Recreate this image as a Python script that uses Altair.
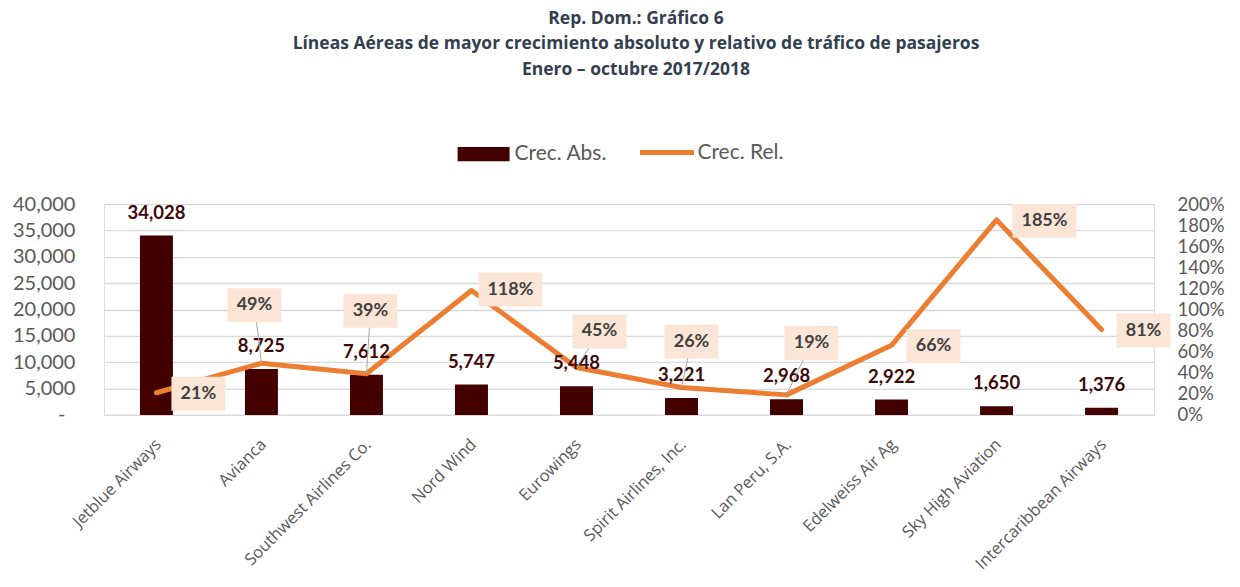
import json
import numpy as np
import pandas as pd
import altair as alt

# ---------------- data ----------------
airlines = [
    "Jetblue Airways", "Avianca", "Southwest Airlines Co.", "Nord Wind",
    "Eurowings", "Spirit Airlines, Inc.", "Lan Peru, S.A.", "Edelweiss Air Ag",
    "Sky High Aviation", "Intercaribbean Airways",
]
crec_abs = [34028, 8725, 7612, 5747, 5448, 3221, 2968, 2922, 1650, 1376]
crec_rel = [21, 49, 39, 118, 45, 26, 19, 66, 185, 81]  # percent

abs_ticks = list(range(0, 40001, 5000))
rel_ticks = list(range(0, 201, 20))

# ---------------- style ----------------
BAR = "#420000"
LINE = "#ED7D31"
BOX = "#FBE5D6"
AXIS_TXT = "#595959"
PLOT_W, PLOT_H = 1051, 211
n = len(airlines)
px_x = PLOT_W / n          # pixels per category unit
px_y = PLOT_H / 200.0      # pixels per percentage point

# placement of the percentage callouts relative to their point (pixels, + = right/down)
label_dx_px = [42, -7, 4, 39, 23, 10, 25, 42, 48, 42]
label_dy_px = [1, -58, -63, -1, -36, -46, -52, 1, 1, 1]
box_h_px = 34

df = pd.DataFrame({"idx": list(range(n)), "airline": airlines,
                   "abs": crec_abs, "rel": crec_rel})
df["abs_lbl"] = [f"{v:,}" for v in crec_abs]
df["rel_lbl"] = [f"{v}%" for v in crec_rel]
box_w = np.array([54 if len(s) <= 3 else 64 for s in df["rel_lbl"]])
df["lx"] = df["idx"] + np.array(label_dx_px) / px_x
df["ly"] = df["rel"] - np.array(label_dy_px) / px_y
df["bx1"] = df["lx"] - box_w / 2 / px_x
df["bx2"] = df["lx"] + box_w / 2 / px_x
df["by1"] = df["ly"] - box_h_px / 2 / px_y
df["by2"] = df["ly"] + box_h_px / 2 / px_y
df["leader"] = [dy < -20 for dy in label_dy_px]
df["s1"] = "Crec. Abs."
df["s2"] = "Crec. Rel."

xs = alt.Scale(domain=[-0.5, n - 0.5], nice=False, zero=False, padding=0)
ys_abs = alt.Scale(domain=[0, 40000], nice=False, padding=0)
ys_rel = alt.Scale(domain=[0, 200], nice=False, padding=0)

x_axis = alt.Axis(
    values=list(range(n)),
    labelExpr=f"{json.dumps(airlines)}[datum.value]",
    labelAngle=-45, labelFont="Open Sans", labelFontSize=16.5, labelColor=AXIS_TXT,
    labelPadding=21, labelOffset=-4, labelLimit=0, labelOverlap=False,
    ticks=False, grid=False,
    domainColor="#D9D9D9", domainWidth=1.3, title=None,
)
left_axis = alt.Axis(
    orient="left", values=abs_ticks,
    labelExpr="datum.value == 0 ? '-' : format(datum.value, ',')",
    labelFont="Lato", labelFontSize=20, labelColor=AXIS_TXT,
    labelPadding={"condition": {"test": "datum.value === 0", "value": 39},
                  "value": 29},
    ticks=False, domain=False, grid=True, gridColor="#D9D9D9", gridWidth=1.3,
    title=None,
)
right_axis = alt.Axis(
    orient="right", values=rel_ticks, labelExpr="datum.value + '%'",
    labelFont="Lato", labelFontSize=18.5, labelColor=AXIS_TXT, labelPadding=23,
    labelLimit=0, ticks=False, domain=False, grid=False, title=None,
)

base = alt.Chart(df)


def X(field):
    return alt.X(field, scale=xs, axis=x_axis)


bars = base.mark_bar(size=33).encode(
    x=X("idx:Q"),
    y=alt.Y("abs:Q", scale=ys_abs, axis=left_axis),
    fill=alt.Fill("s1:N", scale=alt.Scale(domain=["Crec. Abs."], range=[BAR]),
                  legend=alt.Legend(orient="none", legendX=354, legendY=-76,
                                    title=None, padding=0,
                                    symbolType="M-1,-0.27L1,-0.27L1,0.27L-1,0.27Z",
                                    symbolSize=2704, symbolStrokeWidth=0,
                                    symbolOpacity=1,
                                    labelFont="Lato", labelFontSize=21,
                                    labelColor=AXIS_TXT, labelOffset=5)),
)

line = base.mark_line(strokeWidth=5, strokeCap="round", strokeJoin="round").encode(
    x=X("idx:Q"),
    y=alt.Y("rel:Q", scale=ys_rel, axis=right_axis),
    stroke=alt.Stroke("s2:N", scale=alt.Scale(domain=["Crec. Rel."], range=[LINE]),
                      legend=alt.Legend(orient="none", legendX=534, legendY=-81,
                                        title=None, padding=0,
                                        symbolType="stroke", symbolSize=2916,
                                        symbolStrokeWidth=5,
                                        labelFont="Lato", labelFontSize=21,
                                        labelColor=AXIS_TXT, labelOffset=1)),
)

bar_labels = base.mark_text(baseline="alphabetic", dy=-17, font="Lato",
                            fontWeight="bold", fontSize=18.5,
                            color="#3D0A0A").encode(
    x=X("idx:Q"),
    y=alt.Y("abs:Q", scale=ys_abs, axis=None),
    text="abs_lbl:N",
)

leaders = base.mark_rule(color="#A6A6A6", strokeWidth=1).encode(
    x=X("idx:Q"), y=alt.Y("rel:Q", scale=ys_rel, axis=None),
    x2="lx:Q", y2="ly:Q",
).transform_filter("datum.leader")

boxes = base.mark_rect(color=BOX).encode(
    x=X("bx1:Q"), x2="bx2:Q",
    y=alt.Y("by1:Q", scale=ys_rel, axis=None), y2="by2:Q",
)

box_text = base.mark_text(font="Lato", fontWeight="bold", fontSize=18,
                          color="#404040", baseline="middle").encode(
    x=X("lx:Q"),
    y=alt.Y("ly:Q", scale=ys_rel, axis=None),
    text="rel_lbl:N",
)

chart = alt.layer(
    bars, line, bar_labels, leaders, boxes, box_text
).resolve_scale(
    y="independent"
).properties(
    width=PLOT_W, height=PLOT_H,
    autosize=alt.AutoSizeParams(type="none"),
    padding={"left": 96, "top": 196, "right": 78, "bottom": 160},
    title=alt.TitleParams(
        text=["Rep. Dom.: Gráfico 6",
              "Líneas Aéreas de mayor crecimiento absoluto y relativo de tráfico de pasajeros",
              "Enero – octubre  2017/2018"],
        anchor="middle", font="Open Sans", fontSize=17.5, fontWeight="bold",
        color="#333F50", lineHeight=25.5, offset=45, dx=7,
    ),
).configure_view(stroke=None).configure(background="white")

chart.save("out.html", embed_options={"renderer": "svg", "actions": False})
